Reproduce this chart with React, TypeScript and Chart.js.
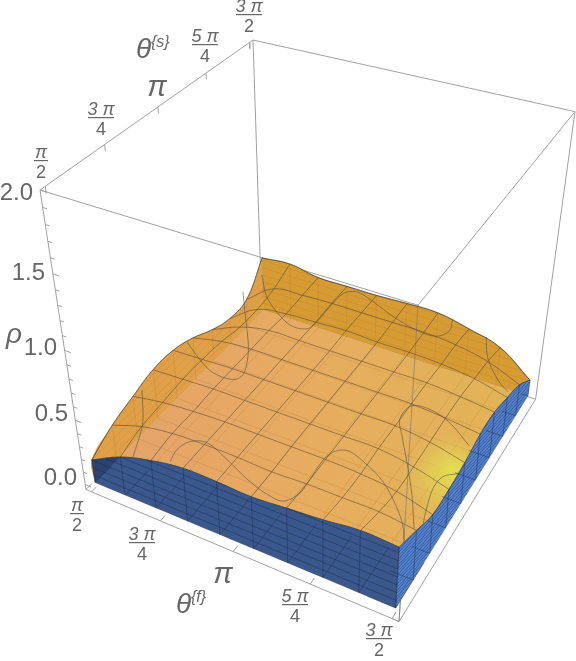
import React, { useEffect, useRef } from "react";
import Chart from "chart.js/auto";

// ---- data: angles in units of pi, density rho ----
const thetaGrid = [0.5, 0.611, 0.722, 0.833, 0.944, 1.056, 1.167, 1.278, 1.389, 1.5];
// rho[row = theta_s index][column = theta_f index]
const rhoRow0 = [0.18, 0.30, 0.37, 0.41, 0.41, 0.40, 0.42, 0.44, 0.47, 0.46];
const rhoRow1 = [0.28, 0.36, 0.40, 0.41, 0.41, 0.40, 0.41, 0.41, 0.41, 0.38];
const rhoRow2 = [0.34, 0.38, 0.40, 0.41, 0.41, 0.41, 0.41, 0.40, 0.37, 0.30];
const rhoRow3 = [0.39, 0.40, 0.41, 0.41, 0.41, 0.41, 0.41, 0.41, 0.37, 0.30];
const rhoRow4 = [0.39, 0.40, 0.41, 0.41, 0.41, 0.41, 0.41, 0.41, 0.38, 0.32];
const rhoRow5 = [0.34, 0.39, 0.41, 0.41, 0.41, 0.41, 0.41, 0.41, 0.39, 0.36];
const rhoRow6 = [0.26, 0.36, 0.41, 0.41, 0.41, 0.41, 0.41, 0.41, 0.39, 0.36];
const rhoRow7 = [0.21, 0.36, 0.40, 0.41, 0.42, 0.41, 0.41, 0.40, 0.37, 0.31];
const rhoRow8 = [0.23, 0.39, 0.41, 0.42, 0.42, 0.42, 0.42, 0.40, 0.35, 0.25];
const rhoRow9 = [0.44, 0.46, 0.42, 0.42, 0.42, 0.43, 0.43, 0.38, 0.31, 0.13];
const rhoGrid = [rhoRow0, rhoRow1, rhoRow2, rhoRow3, rhoRow4, rhoRow5, rhoRow6, rhoRow7, rhoRow8, rhoRow9];

const contourLevel = 0.4;
const contourFront = [[0.783,0.510],[0.772,0.560],[0.786,0.606],[0.832,0.626],[0.919,0.594],[1.011,0.553],[1.089,0.529],[1.140,0.527],[1.165,0.571],[1.165,0.624],[1.160,0.726],[1.174,0.772],[1.207,0.789],[1.273,0.765],[1.346,0.724],[1.417,0.658],[1.465,0.600],[1.492,0.550]];
const contourRight = [[1.498,0.973],[1.406,1.040],[1.331,1.065],[1.279,1.052],[1.275,0.983],[1.312,0.919],[1.385,0.804],[1.439,0.713],[1.495,0.605]];
const contourCorner = [[1.515,0.852],[1.483,0.821],[1.478,0.765],[1.497,0.676],[1.509,0.633]];
const contourLeft = [[0.519,0.996],[0.605,0.939],[0.676,0.904],[0.748,0.905],[0.762,0.940],[0.729,1.024],[0.684,1.099],[0.600,1.219],[0.532,1.318]];
const contourBack = [[0.537,1.435],[0.618,1.331],[0.710,1.259],[0.777,1.228],[0.825,1.242],[0.832,1.289],[0.830,1.382],[0.834,1.469],[0.864,1.499],[0.909,1.491],[1.037,1.432],[1.146,1.399],[1.205,1.401],[1.231,1.445],[1.216,1.511]];
const contourBackRight = [[1.347,1.473],[1.395,1.371],[1.467,1.282],[1.508,1.251]];
const contourLeftLow = [[0.530,0.731],[0.586,0.657],[0.628,0.593],[0.679,0.476]];
const contours = [contourFront, contourRight, contourCorner, contourLeft, contourBack, contourBackRight, contourLeftLow];

const wallLevels = [0.06, 0.12, 0.18, 0.24, 0.30, 0.36, 0.42];
const thetaTicks = [0.5, 0.75, 1, 1.25, 1.5];
const rhoMajorTicks = [0, 0.5, 1, 1.5, 2];
const rhoMinorTicks = [0.1,0.2,0.3,0.4,0.6,0.7,0.8,0.9,1.1,1.2,1.3,1.4,1.6,1.7,1.8,1.9];
const thetaTickLabels = [["π","2"],["3 π","4"],["π"],["5 π","4"],["3 π","2"]];
const rhoTickLabels = ["0.0","0.5","1.0","1.5","2.0"];

// ---- camera: homogeneous projection of the unit box ----
const O = [103.125, 586.97, 1.19913];
const U = [321.01, 73.6, -0.13634];
const W = [273.82, -140.38, 0.24039];
const Z = [-63.13, -396.97, -0.19913];
type P = { x: number; y: number };
const gap: P = { x: NaN, y: NaN };
function pt(tf: number, ts: number, rho: number): P {
  const u = 0.02 + (tf - 0.5) * 0.96, v = 0.02 + (ts - 0.5) * 0.96, w = 0.02 + (rho / 2) * 0.98;
  const h = O[2] + u * U[2] + v * W[2] + w * Z[2];
  return { x: (O[0] + u * U[0] + v * W[0] + w * Z[0]) / h, y: (O[1] + u * U[1] + v * W[1] + w * Z[1]) / h };
}
const fMin = 0.5 - 0.02 / 0.96, fMax = 1.5 + 0.02 / 0.96, rMin = -0.0408, rMax = 2;

function levelPoints(hts: number[], lv: number, at: (t: number, r: number) => P): P[] {
  const out: P[] = [];
  for (let i = 0; i < hts.length; i++) {
    if (hts[i] >= lv) out.push(at(thetaGrid[i], lv));
    if (i + 1 < hts.length && (hts[i] >= lv) !== (hts[i + 1] >= lv)) {
      const s = (lv - hts[i]) / (hts[i + 1] - hts[i]);
      out.push(at(thetaGrid[i] + s * (thetaGrid[i + 1] - thetaGrid[i]), lv));
      if (hts[i] >= lv) out.push(gap);
    }
  }
  return out;
}

export default function App() {
  const ref = useRef<HTMLCanvasElement>(null);
  useEffect(() => {
    document.body.style.margin = "0";
    const cv = ref.current!;
    const ctx = cv.getContext("2d")!;

    const layers: any[] = [];
    const add = (data: P[], o: any = {}) =>
      layers.push({
        data, showLine: true, pointRadius: 0, borderWidth: o.bw ?? 0, borderColor: o.c ?? "rgba(0,0,0,0)",
        backgroundColor: o.f ?? "rgba(0,0,0,0)", fill: o.f ? "shape" : false, tension: o.t ?? 0, clip: false,
        borderCapStyle: "butt", borderJoinStyle: "round",
      });

    const n = thetaGrid.length;
    const front = rhoRow0, back = rhoRow9;
    const left = rhoGrid.map((r) => r[0]), right = rhoGrid.map((r) => r[n - 1]);
    const frontTop = thetaGrid.map((t, i) => pt(t, 0.5, front[i]));
    const backTop = thetaGrid.map((t, i) => pt(t, 1.5, back[i]));
    const leftTop = thetaGrid.map((t, i) => pt(0.5, t, left[i]));
    const rightTop = thetaGrid.map((t, i) => pt(1.5, t, right[i]));
    const rev = (a: P[]) => a.slice().reverse();
    const dup = (p: P) => [p, p];
    const smooth = 0.4;

    // box behind everything
    const boxC = "#a0a0a0";
    const box = (a: number[], b: number[]) => add([pt(a[0], a[1], a[2]), pt(b[0], b[1], b[2])], { c: boxC, bw: 1 });
    box([fMin, fMin, rMax], [fMin, fMax, rMax]);
    box([fMin, fMax, rMax], [fMax, fMax, rMax]);
    box([fMin, fMin, rMax], [fMax, fMin, rMax]);
    box([fMax, fMin, rMax], [fMax, fMax, rMax]);
    box([fMax, fMax, rMin], [fMax, fMax, rMax]);
    box([fMin, fMax, rMin], [fMin, fMax, rMax]);
    box([fMax, fMin, rMin], [fMax, fMin, rMax]);
    box([fMin, fMin, rMin], [fMin, fMin, rMax]);
    box([fMin, fMin, rMin], [fMax, fMin, rMin]);
    box([fMax, fMin, rMin], [fMax, fMax, rMin]);
    box([fMin, fMin, rMin], [fMin, fMin + 0.03, rMin]);
    box([fMax, fMin, rMin], [fMax - 0.02, fMin, rMin]);
    box([fMax, fMax, rMin], [fMax - 0.03, fMax, rMin]);
    // ticks
    const seg: P[] = [];
    thetaTicks.forEach((t) => seg.push(pt(t, fMin, rMin), pt(t, fMin + 0.025, rMin), gap));
    thetaTicks.forEach((t) => seg.push(pt(fMin, t, rMax), pt(fMin, t, rMax - 0.04), gap));
    rhoMajorTicks.forEach((r) => seg.push(pt(fMin, fMin, r), pt(fMin + 0.022, fMin, r), gap));
    rhoMinorTicks.forEach((r) => seg.push(pt(fMin, fMin, r), pt(fMin + 0.014, fMin, r), gap));
    add(seg, { c: boxC, bw: 1 });

    // back walls
    const leftWall = [...dup(pt(0.5, 0.5, 0)), ...leftTop.slice(0, n - 1), ...dup(pt(0.5, 1.5, left[n - 1])), ...dup(pt(0.5, 1.5, 0))];
    add(leftWall, { f: "rgb(224,160,72)", t: smooth });
    const backWall = [...dup(pt(0.5, 1.5, 0)), ...dup(pt(0.5, 1.5, back[0])), ...backTop.slice(1, n - 1), ...dup(pt(1.5, 1.5, back[n - 1])), ...dup(pt(1.5, 1.5, 0))];
    add(backWall, { f: "rgb(215,155,52)", t: smooth });

    // wall detail seen through the surface
    const faint = "rgba(150,90,20,0.2)";
    wallLevels.forEach((l) => {
      add(levelPoints(left, l, (t, r) => pt(0.5, t, r)), { c: faint, bw: 0.7 });
      add(levelPoints(back, l, (t, r) => pt(t, 1.5, r)), { c: faint, bw: 0.7 });
    });
    const wv: P[] = [];
    thetaGrid.forEach((t, i) => {
      wv.push(pt(0.5, t, 0), pt(0.5, t, left[i]), gap);
      wv.push(pt(t, 1.5, 0), pt(t, 1.5, back[i]), gap);
    });
    add(wv, { c: faint, bw: 0.7 });

    // floor
    const floorFill = ctx.createLinearGradient(150, 400, 500, 420);
    floorFill.addColorStop(0, "rgb(229,164,104)");
    floorFill.addColorStop(0.45, "rgb(231,172,96)");
    floorFill.addColorStop(1, "rgb(226,180,86)");
    add([pt(0.5, 0.5, 0), pt(1.5, 0.5, 0), pt(1.5, 1.5, 0), pt(0.5, 1.5, 0), pt(0.5, 0.5, 0)], { f: floorFill });
    const floorLines: P[] = [];
    thetaGrid.forEach((t) => {
      floorLines.push(pt(t, 0.5, 0), pt(t, 1.5, 0), gap);
      floorLines.push(pt(0.5, t, 0), pt(1.5, t, 0), gap);
    });
    add(floorLines, { c: "rgba(165,105,35,0.25)", bw: 0.8 });

    // glow on the surface
    const glow = ctx.createRadialGradient(452, 470, 2, 448, 480, 48);
    glow.addColorStop(0, "rgba(228,224,80,0.95)");
    glow.addColorStop(0.4, "rgba(226,212,84,0.65)");
    glow.addColorStop(1, "rgba(226,190,86,0)");
    add([...frontTop.slice(0, n - 1), ...dup(rightTop[0]), ...rightTop.slice(1, n - 1), ...dup(rightTop[n - 1]), ...rev(backTop).slice(1, n - 1), ...dup(backTop[0]), ...rev(leftTop).slice(1)], { f: glow, t: smooth });

    // box edge through the surface
    add([pt(fMax, fMin, rMax), pt(fMax, fMin, rMin)], { c: "rgba(125,125,125,0.7)", bw: 1 });

    // mesh on the surface
    const meshC = "rgba(72,68,52,0.6)";
    rhoGrid.forEach((row, j) => add(row.map((r, i) => pt(thetaGrid[i], thetaGrid[j], r)), { c: meshC, bw: 0.9, t: smooth }));
    thetaGrid.forEach((t, i) => add(rhoGrid.map((row, j) => pt(t, thetaGrid[j], row[i])), { c: meshC, bw: 0.9, t: smooth }));
    contours.forEach((c) => add(c.map((p) => pt(p[0], p[1], contourLevel)), { c: "rgba(82,82,72,0.65)", bw: 0.9, t: 0.35 }));

    // near walls
    add([...dup(pt(0.5, 0.5, 0)), ...dup(pt(1.5, 0.5, 0)), ...dup(frontTop[n - 1]), ...rev(frontTop).slice(1, n - 1), ...dup(frontTop[0])], { f: "rgb(58,88,140)", t: smooth });
    const hatch = document.createElement("canvas");
    hatch.width = 3; hatch.height = 3;
    const hx = hatch.getContext("2d")!;
    hx.fillStyle = "rgb(84,130,205)"; hx.fillRect(0, 0, 3, 3);
    hx.fillStyle = "rgb(66,106,178)";
    hx.fillRect(0, 2, 1, 1); hx.fillRect(1, 1, 1, 1); hx.fillRect(2, 0, 1, 1);
    add([...dup(pt(1.5, 0.5, 0)), ...dup(pt(1.5, 1.5, 0)), ...dup(rightTop[n - 1]), ...rev(rightTop).slice(1, n - 1), ...dup(rightTop[0])], { f: ctx.createPattern(hatch, "repeat"), t: smooth });
    add([pt(0.5, 0.5, 0), pt(0.5, 0.5, front[0]), pt(thetaGrid[1], 0.5, front[1]), pt(0.5, 0.5, 0)], { f: "rgba(18,34,70,0.38)" });

    // near wall lines
    const wallC = "rgba(26,42,78,0.62)";
    wallLevels.forEach((l) => {
      add(levelPoints(front, l, (t, r) => pt(t, 0.5, r)), { c: wallC, bw: 0.8 });
      add(levelPoints(right, l, (t, r) => pt(1.5, t, r)), { c: "rgba(26,42,78,0.35)", bw: 0.6 });
    });
    const nv: P[] = [];
    thetaGrid.forEach((t, i) => {
      nv.push(pt(t, 0.5, 0), pt(t, 0.5, front[i]), gap);
      nv.push(pt(1.5, t, 0), pt(1.5, t, right[i]), gap);
      nv.push(pt(t, 0.5, 0), pt(t, 0.5 + front[i] * 0.4, 0), gap);
      nv.push(pt(1.5, t, 0), pt(1.5 - right[i] * 0.185, t, 0), gap);
    });
    add(nv, { c: "rgba(26,42,78,0.55)", bw: 0.8 });

    // outline
    const edge = "rgba(48,48,48,0.6)";
    add(frontTop, { c: edge, bw: 0.8, t: smooth });
    add(rightTop, { c: edge, bw: 0.8, t: smooth });
    add(backTop, { c: edge, bw: 0.8, t: smooth });
    add(leftTop, { c: "rgba(70,60,40,0.5)", bw: 0.8, t: smooth });

    const labels = {
      id: "labels",
      afterDraw(chart: any) {
        const c = chart.ctx as CanvasRenderingContext2D;
        c.save();
        c.fillStyle = "#666666";
        c.textBaseline = "alphabetic";
        const fam = '"Liberation Sans"';
        const frac = (cx: number, barY: number, lab: string[]) => {
          c.textAlign = "center";
          if (lab.length === 1) {
            c.font = `italic 29px ${fam}`;
            c.fillText(lab[0], cx, barY + 9);
            return;
          }
          c.font = `italic 18px ${fam}`;
          c.fillText(lab[0], cx, barY - 2);
          c.font = `18px ${fam}`;
          c.fillText(lab[1], cx, barY + 18);
          const w = lab[0].length > 1 ? 13 : 7;
          c.fillRect(cx - w, barY, w * 2, 1.2);
        };
        const sPos = [[41, 160], [101, 117], [157, 87], [205, 44], [249, 14]];
        const fPos = [[77, 513], [142, 542], [223, 574], [295, 604], [379, 638]];
        thetaTickLabels.forEach((lab, i) => {
          frac(sPos[i][0], sPos[i][1], lab);
          frac(fPos[i][0], fPos[i][1], lab);
        });
        const rPos = [[77, 485], [68, 421], [57, 355], [45, 280], [33, 200]];
        c.textAlign = "right";
        c.font = `24px ${fam}`;
        rhoTickLabels.forEach((l, i) => c.fillText(l, rPos[i][0], rPos[i][1]));
        c.textAlign = "left";
        c.font = `italic 28px ${fam}`;
        c.fillText("θ", 136, 58);
        c.fillText("θ", 176, 613);
        c.fillText("ρ", 6, 343);
        c.font = `italic 16px ${fam}`;
        c.fillText("{s}", 151, 47);
        c.fillText("{f}", 191, 602);
        c.restore();
      },
    };

    const chart = new Chart(cv, {
      type: "scatter",
      data: { datasets: layers.slice().reverse() },
      plugins: [labels],
      options: {
        animation: false,
        responsive: false,
        events: [],
        layout: { padding: 0 },
        plugins: { legend: { display: false }, tooltip: { enabled: false }, title: { display: false } },
        scales: {
          x: { type: "linear", min: 0, max: 576, display: false },
          y: { type: "linear", min: 0, max: 661, reverse: true, display: false },
        },
      },
    } as any);
    return () => chart.destroy();
  }, []);
  return <canvas ref={ref} width={576} height={661} style={{ display: "block" }} />;
}
